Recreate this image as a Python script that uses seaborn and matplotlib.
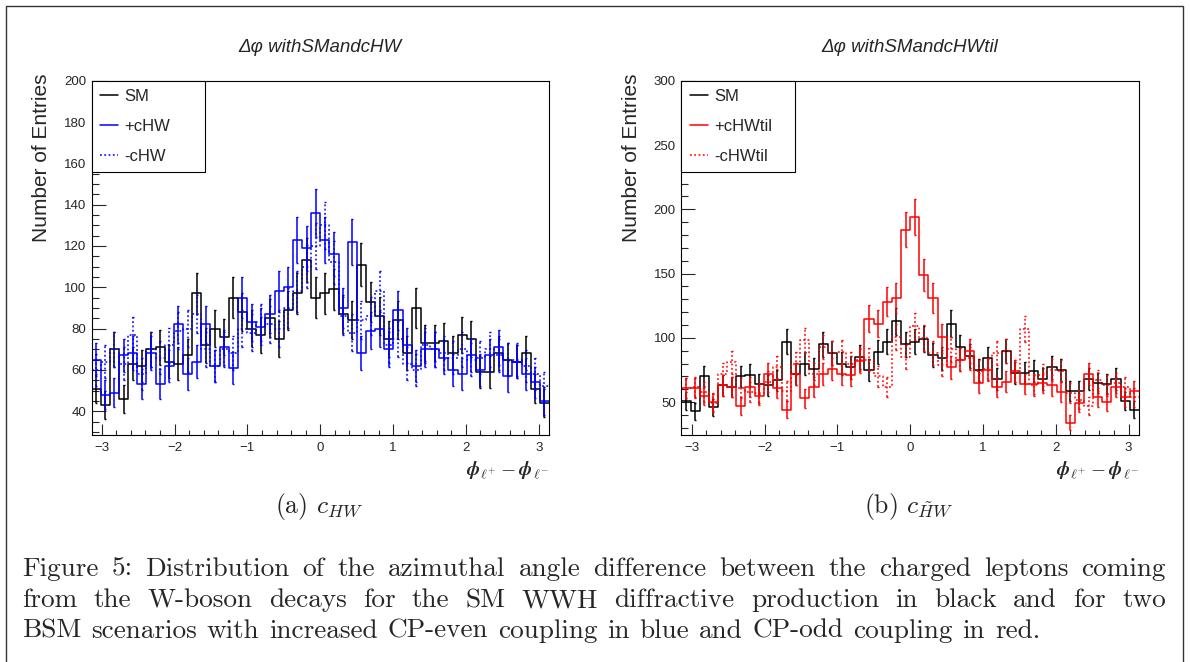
import numpy as np
import pandas as pd
import matplotlib
matplotlib.use("Agg")
import matplotlib.pyplot as plt
import seaborn as sns
from matplotlib.patches import Rectangle
from matplotlib.lines import Line2D
from matplotlib.ticker import MultipleLocator

# ---------------- data (50 bins in [-pi, pi]) ----------------
n_bins = 50
sm = [51, 43, 70, 46, 63, 62, 70, 71, 64, 63,
      67, 97, 72, 80, 76, 95, 88, 80, 77, 85,
      75, 89, 97, 113, 95, 97, 99, 87, 84, 111,
      93, 86, 75, 84, 68, 90, 73, 73, 74, 68,
      77, 75, 59, 59, 68, 65, 64, 68, 51, 44]
plus_chw = [65, 48, 49, 67, 68, 53, 68, 53, 62, 82,
            58, 64, 82, 62, 71, 61, 95, 83, 81, 87,
            98, 100, 123, 119, 136, 123, 116, 90, 122, 68,
            79, 80, 70, 89, 72, 62, 70, 70, 66, 60,
            58, 67, 60, 67, 71, 57, 64, 58, 54, 45]
minus_chw = [60, 64, 70, 63, 77, 58, 70, 66, 72, 79,
             80, 87, 70, 62, 70, 68, 80, 78, 83, 82,
             80, 90, 98, 110, 120, 130, 112, 86, 78, 84,
             86, 98, 72, 75, 63, 60, 72, 70, 68, 66,
             70, 65, 66, 70, 67, 65, 65, 62, 58, 52]
plus_chwtil = [61, 61, 55, 50, 63, 62, 47, 62, 55, 72,
               61, 44, 72, 53, 62, 72, 76, 72, 71, 82,
               115, 111, 128, 131, 184, 194, 149, 131, 101, 77,
               83, 90, 65, 75, 62, 66, 74, 64, 64, 65,
               63, 58, 34, 49, 72, 54, 50, 62, 54, 59]
minus_chwtil = [61, 62, 58, 49, 72, 81, 61, 58, 57, 66,
                77, 59, 80, 98, 72, 93, 88, 89, 80, 83,
                83, 70, 62, 101, 85, 109, 100, 88, 79, 91,
                83, 84, 74, 76, 88, 90, 74, 107, 63, 71,
                75, 74, 57, 52, 47, 67, 63, 65, 62, 54]

labels_a = ["SM", "+cHW", "-cHW"]
labels_b = ["SM", "+cHWtil", "-cHWtil"]
title_a = "\u0394\u03c6 withSMandcHW"
title_b = "\u0394\u03c6 withSMandcHWtil"
ylabel = "Number of Entries"
xlabel = r"$\boldsymbol{\phi}_{\ell^{+}} - \boldsymbol{\phi}_{\ell^{-}}$"
sub_a = r"(a) $c_{HW}$"
sub_b = r"(b) $c_{\tilde{H}W}$"
caption = [
    "Figure 5: Distribution of the azimuthal angle difference between the charged leptons coming",
    "from the W-boson decays for the SM WWH diffractive production in black and for two",
    "BSM scenarios with increased CP-even coupling in blue and CP-odd coupling in red.",
]

# ---------------- style ----------------
sns.set_theme(style="white")
plt.rcParams["font.family"] = ["Liberation Sans", "DejaVu Sans"]
plt.rcParams["mathtext.fontset"] = "cm"
plt.rcParams["axes.unicode_minus"] = True

W, H = 1190, 662
fig = plt.figure(figsize=(W / 100, H / 100), dpi=100)
fig.patch.set_facecolor("white")


def fx(px):
    return px / W


def fy(py):
    return 1 - py / H


edges = np.linspace(-np.pi, np.pi, n_bins + 1)
centers = 0.5 * (edges[:-1] + edges[1:])
DOT = (0, (1.2, 1.6))


def draw_panel(left_px, series, colors, styles, labels, ylim, ymaj, ymin, title):
    ax = fig.add_axes([fx(left_px), fy(435), 457.5 / W, 354.3 / H])
    for vals, c, ls in zip(series, colors, styles):
        df = pd.DataFrame({"x": centers, "w": np.asarray(vals, dtype=float)})
        sns.histplot(data=df, x="x", weights="w", bins=n_bins,
                     binrange=(-np.pi, np.pi), element="step",
                     fill=False, color=c, linestyle=ls, linewidth=1.1, ax=ax)
        eb = ax.errorbar(centers, vals, yerr=np.sqrt(vals), fmt="none",
                         ecolor=c, elinewidth=1.1, capsize=1.0, capthick=1.0)
        eb[2][0].set_linestyle(ls)
    ax.set_xlim(-np.pi, np.pi)
    ax.set_ylim(*ylim)
    ax.set_xlabel("")
    ax.set_ylabel("")
    ax.xaxis.set_major_locator(MultipleLocator(1))
    ax.xaxis.set_minor_locator(MultipleLocator(0.2))
    ax.yaxis.set_major_locator(MultipleLocator(ymaj))
    ax.yaxis.set_minor_locator(MultipleLocator(ymin))
    ax.tick_params(axis="y", which="major", direction="in", length=9.8, width=0.8,
                   labelsize=9.5, pad=4, left=True, right=False)
    ax.tick_params(axis="y", which="minor", direction="in", length=4.9, width=0.8,
                   left=True, right=False)
    ax.tick_params(axis="x", which="major", direction="in", length=7.6, width=0.8,
                   labelsize=9.5, pad=5, bottom=True, top=False)
    ax.tick_params(axis="x", which="minor", direction="in", length=3.8, width=0.8,
                   bottom=True, top=False)
    for sp in ax.spines.values():
        sp.set_color("black")
        sp.set_linewidth(0.8)
    handles = [Line2D([], [], color=c, linestyle=ls, linewidth=1.1)
               for c, ls in zip(colors, styles)]
    leg = ax.legend(handles, labels, loc="upper left",
                    bbox_to_anchor=(0, 0.751, 0.249, 0.249), mode="expand",
                    borderaxespad=0, fancybox=False, framealpha=1,
                    edgecolor="black", fontsize=12, handlelength=1.1,
                    handletextpad=0.35, labelspacing=0.9, borderpad=0.5)
    leg.get_frame().set_linewidth(0.8)
    cx = left_px + 457.5 / 2
    fig.text(fx(cx), fy(47), title, style="italic", fontsize=13.5,
             ha="center", va="center")
    fig.text(fx(left_px - 49.5), fy(74), ylabel, rotation=90, fontsize=15,
             ha="center", va="top")
    fig.text(fx(left_px + 457.5), fy(470), xlabel, fontsize=14,
             ha="right", va="center")
    return ax


draw_panel(91.5, [sm, plus_chw, minus_chw], ["black", "#0000ff", "#0000ff"],
           ["-", "-", DOT], labels_a, (28.5, 200), 20, 5, title_a)
draw_panel(681.4, [sm, plus_chwtil, minus_chwtil], ["black", "#ff0000", "#ff0000"],
           ["-", "-", DOT], labels_b, (24.5, 300), 50, 10, title_b)

fig.text(fx(319), fy(507), sub_a, family="cmr10", fontsize=18.5, ha="center", va="center")
fig.text(fx(909), fy(507), sub_b, family="cmr10", fontsize=18.5, ha="center", va="center")

renderer = fig.canvas.get_renderer()
cap_fs = 19.6
x0, x1 = 22, 1166
baselines = [576, 607, 638]
for i, (line, yb) in enumerate(zip(caption, baselines)):
    words = line.split(" ")
    texts = [fig.text(0, fy(yb), w, family="cmr10", fontsize=cap_fs,
                      va="baseline", ha="left") for w in words]
    widths = [t.get_window_extent(renderer).width for t in texts]
    if i < len(caption) - 1:
        gap = (x1 - x0 - sum(widths)) / (len(words) - 1)
    else:
        gap = cap_fs * 100 / 72 * 0.36
    x = x0
    for t, w in zip(texts, widths):
        t.set_x(fx(x))
        x += w + gap

fig.patches.append(Rectangle((fx(6), -0.02), fx(1183) - fx(6), fy(6) + 0.02,
                             transform=fig.transFigure, fill=False,
                             edgecolor="#333333", linewidth=1.0))

fig.savefig("out.png", dpi=100, facecolor="white")
